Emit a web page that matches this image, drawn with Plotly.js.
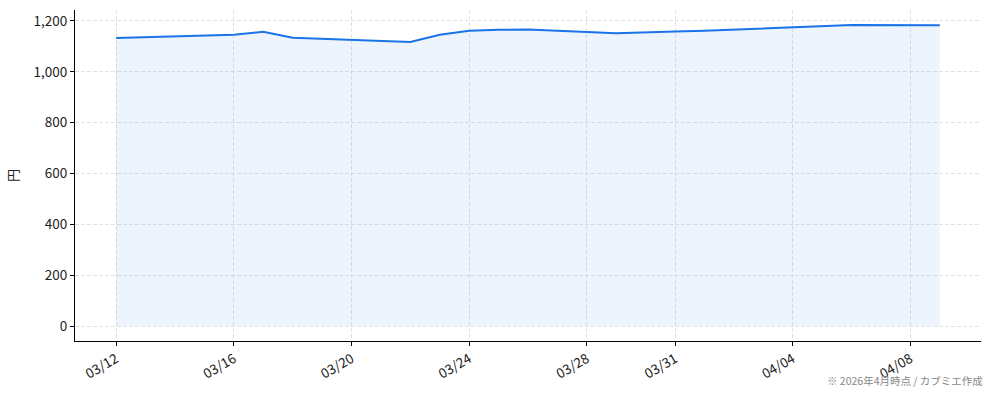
<!DOCTYPE html>
<html>
<head>
<meta charset="utf-8">
<script src="https://cdn.plot.ly/plotly-3.0.1.min.js"></script>
<style>
  html, body { margin: 0; padding: 0; background: #fff; }
  #chart { width: 994px; height: 401px; }
</style>
</head>
<body>
<div id="chart"></div>
<script>
// price series (円)
const dates = ['2026-03-12', '2026-03-16', '2026-03-17', '2026-03-18', '2026-03-22',
               '2026-03-23', '2026-03-24', '2026-03-25', '2026-03-26', '2026-03-29',
               '2026-03-31', '2026-04-01', '2026-04-06', '2026-04-08', '2026-04-09'];
const prices = [1133, 1146, 1157, 1134, 1117,
                1146, 1161, 1165, 1166, 1152,
                1158, 1161, 1184, 1182, 1183];

const tickDates = ['2026-03-12', '2026-03-16', '2026-03-20', '2026-03-24',
                   '2026-03-28', '2026-03-31', '2026-04-04', '2026-04-08'];
const tickLabels = ['03/12', '03/16', '03/20', '03/24', '03/28', '03/31', '04/04', '04/08'];
const yTicks = [0, 200, 400, 600, 800, 1000, 1200];

const FONT = 'Noto Sans CJK JP, Noto Sans, sans-serif';
const LINE = '#1a73e8';
const GRID = '#e3e3e3';

const trace = {
    type: 'scatter', mode: 'lines',
    x: dates, y: prices,
    line: { color: LINE, width: 2 },
    fill: 'tozeroy', fillcolor: 'rgba(26,115,232,0.08)',
    hoverinfo: 'x+y', showlegend: false
};

const layout = {
    width: 994, height: 401,
    margin: { l: 75, r: 13, t: 10, b: 60 },
    paper_bgcolor: '#fff', plot_bgcolor: '#fff',
    font: { family: FONT, size: 13, color: '#222' },
    xaxis: {
        type: 'date',
        range: ['2026-03-10 14:24', '2026-04-10 09:36'],
        tickvals: tickDates, ticktext: tickLabels, tickangle: -30,
        ticks: 'outside', ticklen: 4, tickcolor: '#000',
        showline: true, linecolor: '#000', linewidth: 1,
        showgrid: true, gridcolor: GRID, griddash: '4px,2px', gridwidth: 1,
        zeroline: false, tickfont: { size: 13.5, color: '#222' }
    },
    yaxis: {
        range: [-59, 1243],
        tickvals: yTicks, tickformat: ',d',
        ticks: 'outside', ticklen: 4, tickcolor: '#000',
        showline: true, linecolor: '#000', linewidth: 1,
        showgrid: true, gridcolor: GRID, griddash: '4px,2px', gridwidth: 1,
        zeroline: false, tickfont: { size: 13.5, color: '#222' },
        title: { text: '円', font: { size: 13, color: '#222' }, standoff: 12 }
    },
    annotations: [{
        xref: 'paper', yref: 'paper', x: 1.0, y: -0.12,
        xanchor: 'right', yanchor: 'middle', xshift: 4,
        text: '※ 2026年4月時点 / カブミエ作成', showarrow: false,
        font: { family: FONT, size: 10.5, color: '#888' }
    }]
};

Plotly.newPlot('chart', [trace], layout, { displayModeBar: false, staticPlot: true });
</script>
</body>
</html>
